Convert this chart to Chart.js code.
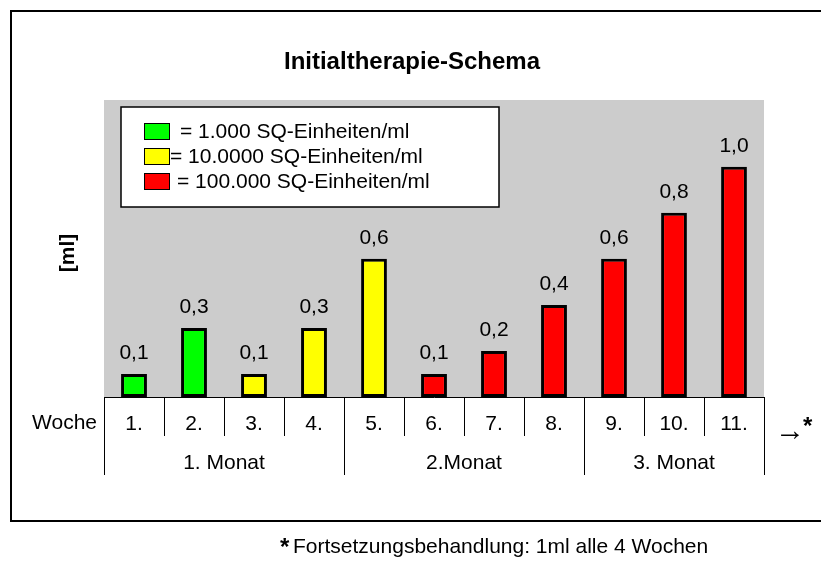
<!DOCTYPE html>
<html>
<head>
<meta charset="utf-8">
<script src="https://cdn.jsdelivr.net/npm/chart.js@4.4.1/dist/chart.umd.min.js"></script>
<style>
    html, body { margin: 0; padding: 0; background: #fff; }
    #wrap { width: 821px; height: 561px; position: relative; }
</style>
</head>
<body>
<div id="wrap"><canvas id="chart"></canvas></div>
<script>
// data
var weeks = ['1.', '2.', '3.', '4.', '5.', '6.', '7.', '8.', '9.', '10.', '11.'];
var doses = [0.1, 0.3, 0.1, 0.3, 0.6, 0.1, 0.2, 0.4, 0.6, 0.8, 1.0];
var strength = [0, 0, 1, 1, 1, 2, 2, 2, 2, 2, 2];
var strengthLabels = ['= 1.000 SQ-Einheiten/ml', '= 10.0000 SQ-Einheiten/ml', '= 100.000 SQ-Einheiten/ml'];
var strengthColors = ['#00ff00', '#ffff00', '#ff0000'];
var months = ['1. Monat', '2.Monat', '3. Monat'];
var monthStart = [0, 4, 8];
var monthEnd = [3, 7, 10];

var FONT = "Arial, 'Liberation Sans', sans-serif";
var FS = 21;

function buildDatasets() {
    var sets = [];
    for (var s = 0; s < strengthLabels.length; s++) {
        var vals = [];
        for (var i = 0; i < doses.length; i++) {
            vals.push(strength[i] == s ? doses[i] : null);
        }
        sets.push({
            label: strengthLabels[s],
            data: vals,
            backgroundColor: strengthColors[s],
            borderColor: '#000',
            borderWidth: 3,
            borderSkipped: false,
            barPercentage: 0.43,
            categoryPercentage: 1
        });
    }
    return sets;
}

function fmt(v) {
    return v.toFixed(1).replace('.', ',');
}

var decorations = {
    id: 'decorations',
    beforeDraw: function (chart) {
        var ctx = chart.ctx;
        var a = chart.chartArea;
        ctx.save();
        ctx.fillStyle = '#cccccc';
        ctx.fillRect(a.left, a.top, a.right - a.left, a.bottom - a.top);
        ctx.restore();
    },
    afterDraw: function (chart) {
        var ctx = chart.ctx;
        var a = chart.chartArea;
        var x = chart.scales.x;
        var half = (x.getPixelForValue(1) - x.getPixelForValue(0)) / 2;
        ctx.save();

        // outer frame
        ctx.strokeStyle = '#000';
        ctx.lineWidth = 2;
        ctx.strokeRect(11, 11, 830, 510);

        // title
        ctx.fillStyle = '#000';
        ctx.font = 'bold 24px ' + FONT;
        ctx.textAlign = 'center';
        ctx.textBaseline = 'middle';
        ctx.fillText('Initialtherapie-Schema', 412, 62);

        // y label
        ctx.save();
        ctx.translate(68, 253);
        ctx.rotate(-Math.PI / 2);
        ctx.font = 'bold ' + FS + 'px ' + FONT;
        ctx.fillText('[ml]', 0, 0);
        ctx.restore();

        // value labels
        ctx.font = FS + 'px ' + FONT;
        ctx.textBaseline = 'alphabetic';
        chart.data.datasets.forEach(function (ds, di) {
            chart.getDatasetMeta(di).data.forEach(function (bar, i) {
                if (ds.data[i] == null) return;
                ctx.fillText(fmt(ds.data[i]), bar.x, bar.y - 15);
            });
        });

        // table lines
        ctx.lineWidth = 1;
        ctx.beginPath();
        for (var i = 0; i <= weeks.length; i++) {
            var px = Math.round(x.getPixelForValue(i) - half) + 0.5;
            ctx.moveTo(px, a.bottom);
            ctx.lineTo(px, a.bottom + 39);
        }
        for (var m = 0; m < months.length; m++) {
            var l = Math.round(x.getPixelForValue(monthStart[m]) - half) + 0.5;
            var r = Math.round(x.getPixelForValue(monthEnd[m]) + half) + 0.5;
            ctx.moveTo(l, a.bottom);
            ctx.lineTo(l, a.bottom + 78);
            ctx.moveTo(r, a.bottom);
            ctx.lineTo(r, a.bottom + 78);
        }
        ctx.stroke();

        // month labels
        ctx.textBaseline = 'middle';
        for (var m = 0; m < months.length; m++) {
            var cx = (x.getPixelForValue(monthStart[m]) + x.getPixelForValue(monthEnd[m])) / 2;
            ctx.fillText(months[m], cx, a.bottom + 66);
        }

        // row label
        ctx.textAlign = 'right';
        ctx.fillText('Woche', a.left - 7, a.bottom + 26);

        // continuation arrow
        ctx.textAlign = 'left';
        ctx.font = "30px 'Liberation Sans', 'DejaVu Sans', sans-serif";
        ctx.fillText('\u2192', a.right + 11, a.bottom + 35);
        ctx.font = 'bold 24px ' + FONT;
        ctx.fillText('*', a.right + 39, a.bottom + 30);

        // legend
        ctx.fillStyle = '#fff';
        ctx.fillRect(121, 107, 378, 100);
        ctx.strokeStyle = '#000';
        ctx.lineWidth = 1.5;
        ctx.strokeRect(121, 107, 378, 100);
        ctx.lineWidth = 1;
        ctx.font = FS + 'px ' + FONT;
        var rows = [131, 156, 181];
        var txtX = [180, 170, 177];
        for (var s = 0; s < strengthLabels.length; s++) {
            ctx.fillStyle = strengthColors[s];
            ctx.fillRect(144.5, rows[s] - 7.5, 25, 16);
            ctx.strokeRect(144.5, rows[s] - 7.5, 25, 16);
            ctx.fillStyle = '#000';
            ctx.fillText(strengthLabels[s], txtX[s], rows[s] + 1);
        }

        // footnote
        ctx.font = 'bold 24px ' + FONT;
        ctx.fillText('*', 280, 548);
        ctx.font = FS + 'px ' + FONT;
        ctx.fillText('Fortsetzungsbehandlung: 1ml alle 4 Wochen', 293, 547);

        ctx.restore();
    }
};

var ctx = document.getElementById('chart');
new Chart(ctx, {
    type: 'bar',
    data: {
        labels: weeks,
        datasets: buildDatasets()
    },
    options: {
        responsive: true,
        maintainAspectRatio: false,
        animation: false,
        layout: {
            padding: { left: 104, right: 57, top: 100, bottom: 0 }
        },
        plugins: {
            legend: { display: false },
            tooltip: { enabled: false }
        },
        scales: {
            x: {
                stacked: true,
                grid: { display: false, drawTicks: false },
                border: { display: true, color: '#000', width: 1 },
                ticks: {
                    color: '#000',
                    font: { family: FONT, size: FS },
                    padding: 15,
                    maxRotation: 0
                },
                afterFit: function (scale) { scale.height = 164; }
            },
            y: {
                stacked: true,
                display: false,
                min: 0,
                max: 1.29
            }
        }
    },
    plugins: [decorations]
});
</script>
</body>
</html>
